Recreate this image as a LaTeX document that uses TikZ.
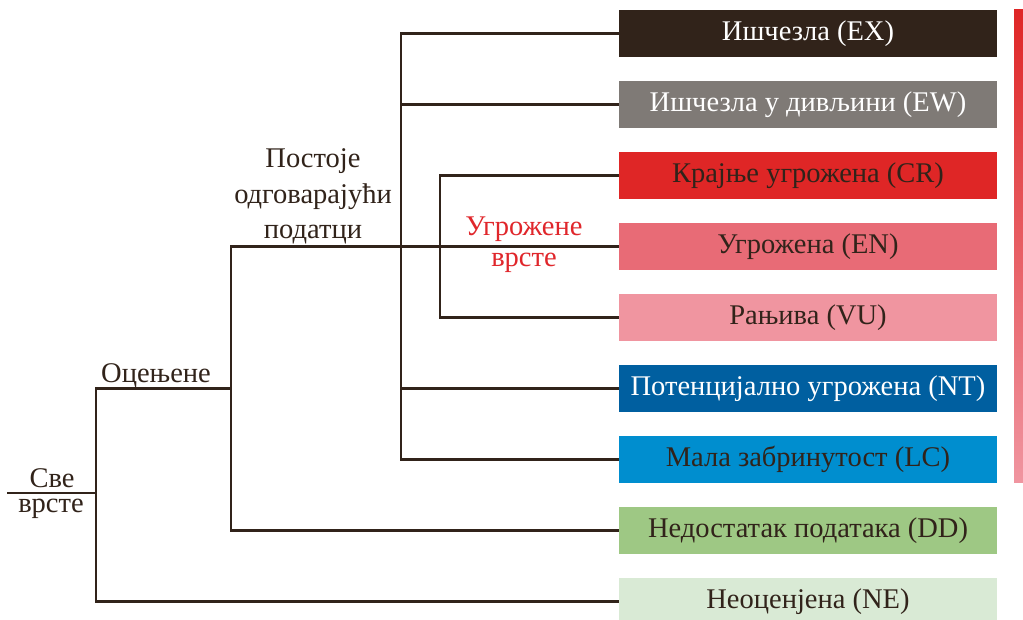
\documentclass[tikz,border=0pt]{standalone}
\usepackage{fontspec}
\setmainfont{Liberation Serif}
\definecolor{ink}{HTML}{31231A}
\definecolor{cEX}{HTML}{31231A}
\definecolor{cEW}{HTML}{7F7A76}
\definecolor{cCR}{HTML}{DF2626}
\definecolor{cEN}{HTML}{E86B76}
\definecolor{cVU}{HTML}{F095A0}
\definecolor{cNT}{HTML}{005FA0}
\definecolor{cLC}{HTML}{008ECF}
\definecolor{cDD}{HTML}{9EC884}
\definecolor{cNE}{HTML}{D9EAD5}
\definecolor{redtxt}{HTML}{E0262B}
\begin{document}
\begin{tikzpicture}[x=1pt,y=-1pt,
  cat/.style={rectangle, minimum width=378pt, minimum height=46.5pt, inner sep=0pt,
    text height=20pt, text depth=6pt, text=ink, font=\fontsize{28.5}{32}\selectfont},
  lbl/.style={anchor=base, text=ink, inner sep=0pt, font=\fontsize{28.5}{32}\selectfont},
  rlbl/.style={anchor=base, text=redtxt, inner sep=0pt, font=\fontsize{28.5}{32}\selectfont},
  ln/.style={draw=ink, line width=2.6pt, line join=miter}]
\useasboundingbox (0,0) rectangle (1023,620);
\fill[white] (0,0) rectangle (1023,620);
% category boxes
\node[cat, fill=cEX, text=white] (ex) at (808,33.5) {Ишчезла (EX)};
\node[cat, fill=cEW, text=white] (ew) at (808,104.5) {Ишчезла у дивљини (EW)};
\node[cat, fill=cCR] (cr) at (808,175.5) {Крајње угрожена (CR)};
\node[cat, fill=cEN] (en) at (808,246.5) {Угрожена (EN)};
\node[cat, fill=cVU] (vu) at (808,317.5) {Рањива (VU)};
\node[cat, fill=cNT, text=white] (nt) at (808,388.5) {Потенцијално угрожена (NT)};
\node[cat, fill=cLC] (lc) at (808,459.5) {Мала забринутост (LC)};
\node[cat, fill=cDD] (dd) at (808,530.5) {Недостатак података (DD)};
\node[cat, fill=cNE] (ne) at (808,601.5) {Неоценјена (NE)};
% gradient bar
\shade[top color=cCR, middle color=cEN!90!cCR, bottom color=cVU] (1014,10) rectangle (1023,482);
% junction coordinates
\coordinate (s0) at (7,493);
\coordinate (j1) at (96,493);
\coordinate (j2) at (231,388.5);
\coordinate (j3) at (401,246.5);
\coordinate (j4) at (440,246.5);
% tree lines
\draw[ln] (s0) -- (j1);
\draw[ln] (j2) -| (j1) |- (ne.west);
\draw[ln] (en.west) -| (231,246.5) |- (dd.west);
\draw[ln] (ex.west) -| (j3) |- (lc.west);
\draw[ln] (ew.west) -- (ew.west -| j3);
\draw[ln] (nt.west) -- (nt.west -| j3);
\draw[ln] (cr.west) -| (j4) |- (vu.west);
% labels
\node[lbl, text depth=0pt] (sve1) at (52,487) {Све};
\node[lbl, text height=13pt] (sve2) at (51,512) {врсте};
\node[lbl] (oc) at (156,382) {Оцењене};
\node[lbl] (p1) at (313,168) {Постоје};
\node[lbl] (p2) at (313,204) {одговарајући};
\node[lbl] (p3) at (313,239) {податци};
\node[rlbl] (u1) at (524,236) {Угрожене};
\node[rlbl] (u2) at (524,267) {врсте};
\end{tikzpicture}
\end{document}
